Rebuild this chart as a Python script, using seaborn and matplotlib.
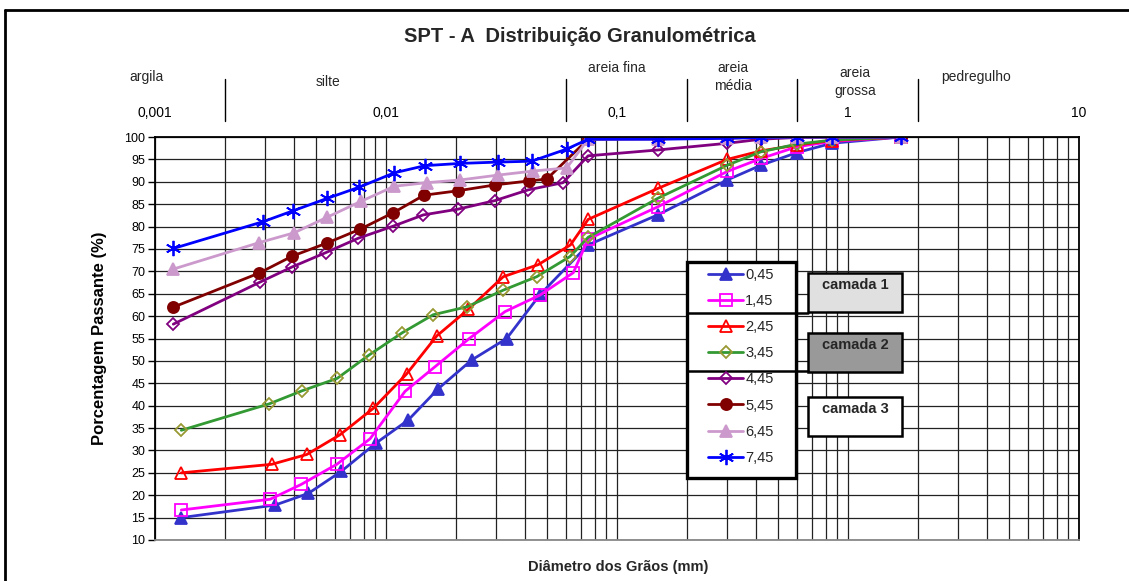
import pandas as pd
import matplotlib
matplotlib.use("Agg")
import matplotlib.pyplot as plt
import matplotlib.transforms as mtransforms
from matplotlib.lines import Line2D
from matplotlib.patches import Rectangle
from matplotlib.ticker import FixedLocator, LogLocator, NullFormatter
import seaborn as sns

W, H = 1129, 581

# sieve openings (mm), shared by all samples
sieves = [0.075, 0.15, 0.30, 0.42, 0.60, 0.85, 1.7]

# sedimentation diameters (mm) read per sample
sed_045 = [0.00130, 0.00331, 0.00461, 0.00639, 0.00903, 0.01249, 0.01684, 0.02350, 0.03330, 0.04642]
sed_145 = [0.00130, 0.00315, 0.00429, 0.00612, 0.00853, 0.01209, 0.01630, 0.02294, 0.03274, 0.04642, 0.06469]
sed_245 = [0.00130, 0.00320, 0.00454, 0.00632, 0.00881, 0.01229, 0.01660, 0.02271, 0.03219, 0.04564, 0.06290]
sed_345 = [0.00130, 0.00312, 0.00432, 0.00615, 0.00844, 0.01177, 0.01600, 0.02248, 0.03219, 0.04492, 0.06259]
sed_445 = [0.00120, 0.00285, 0.00393, 0.00550, 0.00759, 0.01076, 0.01450, 0.02056, 0.02964, 0.04130, 0.05838]
sed_545 = [0.00120, 0.00282, 0.00393, 0.00554, 0.00772, 0.01076, 0.01460, 0.02056, 0.02964, 0.04171, 0.04963]
sed_645 = [0.00120, 0.00282, 0.00400, 0.00557, 0.00777, 0.01086, 0.01500, 0.02091, 0.03063, 0.04342, 0.06058]
sed_745 = [0.00120, 0.00294, 0.00395, 0.00557, 0.00766, 0.01086, 0.01475, 0.02091, 0.03063, 0.04273, 0.06058]

# percentage passing (%)
p_045 = [15.0, 17.8, 20.4, 25.3, 31.6, 36.8, 43.8, 50.2, 55.0, 64.8, 75.9, 82.6, 90.4, 93.7, 96.5, 98.6, 100]
p_145 = [16.7, 19.1, 22.4, 26.9, 32.6, 43.2, 48.7, 55.0, 61.0, 64.7, 69.7, 77.2, 84.4, 92.3, 95.2, 97.8, 99.0, 100]
p_245 = [25.0, 26.9, 29.1, 33.5, 39.4, 47.1, 55.6, 61.5, 68.8, 71.5, 75.9, 81.6, 88.5, 95.0, 96.9, 98.2, 99.2, 100]
p_345 = [34.5, 40.4, 43.3, 46.1, 51.3, 56.3, 60.3, 62.1, 65.8, 68.8, 73.3, 77.6, 86.3, 93.7, 96.7, 98.4, 99.3, 100]
p_445 = [58.2, 67.6, 71.0, 74.2, 77.4, 80.1, 82.6, 83.9, 85.8, 88.2, 89.8, 95.8, 97.1, 98.6, 99.5, 99.9, 100, 100]
p_545 = [62.0, 69.6, 73.4, 76.3, 79.4, 83.1, 87.0, 88.0, 89.3, 90.2, 90.6, 99.5, 99.6, 99.8, 99.9, 100, 100, 100]
p_645 = [70.5, 76.4, 78.6, 82.1, 85.6, 89.0, 89.8, 90.4, 91.5, 92.4, 93.1, 99.5, 99.6, 99.8, 99.9, 100, 100, 100]
p_745 = [75.1, 81.1, 83.5, 86.3, 88.8, 92.0, 93.6, 94.1, 94.4, 94.6, 97.3, 99.5, 99.5, 99.7, 99.9, 100, 100, 100]

depths = ["0,45", "1,45", "2,45", "3,45", "4,45", "5,45", "6,45", "7,45"]
sed_list = [sed_045, sed_145, sed_245, sed_345, sed_445, sed_545, sed_645, sed_745]
pass_list = [p_045, p_145, p_245, p_345, p_445, p_545, p_645, p_745]

x_ticks = [0.001, 0.01, 0.1, 1, 10]
x_tick_labels = ["0,001", "0,01", "0,1", "1", "10"]
fraction_limits = [0.002, 0.06, 0.2, 0.6, 2.0]
fraction_names = ["argila", "silte", "areia fina", "areia\nmédia", "areia\ngrossa", "pedregulho"]
layers = ["camada 1", "camada 2", "camada 3"]

rows = []
for depth, sed, pas in zip(depths, sed_list, pass_list):
    for d, p in zip(sed + sieves, pas):
        rows.append({"prof": depth, "diam": d, "passante": p})
df = pd.DataFrame(rows)

styles = {
    "0,45": dict(color="#3333cc", marker="^", markerfacecolor="#3333cc", markeredgecolor="#3333cc", markersize=8),
    "1,45": dict(color="#ff00ff", marker="s", markerfacecolor="none", markeredgecolor="#ff00ff", markersize=8.5),
    "2,45": dict(color="#ff0000", marker="^", markerfacecolor="none", markeredgecolor="#ff0000", markersize=9),
    "3,45": dict(color="#339933", marker="D", markerfacecolor="none", markeredgecolor="#999933", markersize=6.5),
    "4,45": dict(color="#800080", marker="D", markerfacecolor="none", markeredgecolor="#800080", markersize=6.5),
    "5,45": dict(color="#800000", marker="o", markerfacecolor="#800000", markeredgecolor="#800000", markersize=8),
    "6,45": dict(color="#cc99cc", marker="^", markerfacecolor="#cc99cc", markeredgecolor="#cc99cc", markersize=8),
    "7,45": dict(color="#0000ff", marker=(6, 2, 0), markerfacecolor="#0000ff", markeredgecolor="#0000ff", markersize=11),
}

sns.set_theme(style="white")
plt.rcParams["font.family"] = ["Liberation Sans", "DejaVu Sans"]

fig = plt.figure(figsize=(W / 100, H / 100), dpi=100)
ax = fig.add_axes([155 / W, 41 / H, 924 / W, 403 / H])


def px(x, y):
    return x / W, 1 - y / H


for depth in depths:
    sub = df[df["prof"] == depth]
    sns.lineplot(data=sub, x="diam", y="passante", ax=ax, estimator=None, sort=False,
                 linewidth=2, markeredgewidth=1.3, label=depth, legend=False, **styles[depth])

ax.set_xscale("log")
ax.set_xlim(0.001, 10)
ax.set_ylim(10, 100)
ax.yaxis.set_major_locator(FixedLocator(range(10, 101, 5)))
ax.xaxis.set_major_locator(FixedLocator(x_ticks))
ax.set_xticklabels(x_tick_labels)
ax.xaxis.set_minor_locator(LogLocator(base=10, subs=range(2, 10), numticks=20))
ax.xaxis.set_minor_formatter(NullFormatter())
ax.xaxis.set_ticks_position("top")
ax.tick_params(axis="x", which="both", top=True, bottom=False, labeltop=True, labelbottom=False,
               length=0, pad=12, labelsize=10, colors="black")
ax.tick_params(axis="y", which="major", left=True, length=5, width=1, pad=2, labelsize=9, colors="black")
ax.grid(True, which="both", axis="x", color="#222222", linewidth=0.9)
ax.grid(True, which="major", axis="y", color="#222222", linewidth=0.9)
for side in ["left", "right", "top", "bottom"]:
    ax.spines[side].set_color("black")
    ax.spines[side].set_linewidth(1.3)
ax.spines["bottom"].set_color("#888888")

ax.set_xlabel("")
ax.set_ylabel("Porcentagem Passante (%)", fontsize=12, fontweight="bold", color="black")
ax.yaxis.set_label_coords(-0.052, 0.5)

fig.text(*px(580, 36), "SPT - A  Distribuição Granulométrica", ha="center", va="center",
         fontsize=14.5, fontweight="bold")
fig.text(*px(618, 567), "Diâmetro dos Grãos (mm)", ha="center", va="center", fontsize=10.5, fontweight="bold")

# soil fraction header
trans = mtransforms.blended_transform_factory(ax.transData, fig.transFigure)
for lim in fraction_limits:
    ax.plot([lim, lim], [1 - 79 / H, 1 - 121 / H], transform=trans, color="black", lw=1, clip_on=False)
name_pos = [(147, 77), (328, 82), (617, 68), (733, 77), (855, 82), (976, 77)]
for name, (x, y) in zip(fraction_names, name_pos):
    fig.text(*px(x, y), name, ha="center", va="center", fontsize=10, linespacing=1.45)

# outer frame (left and top edges only, the rest lies outside the image)
fig.add_artist(Line2D([5 / W, 5 / W], [0, 1 - 10 / H], transform=fig.transFigure, color="black", lw=2))
fig.add_artist(Line2D([5 / W, 1], [1 - 10 / H, 1 - 10 / H], transform=fig.transFigure, color="black", lw=2))

# legend box with layer groups
fig.add_artist(Rectangle(px(687, 478), 109 / W, 216 / H, transform=fig.transFigure,
                         facecolor="white", edgecolor="black", lw=2.4, zorder=2))
for y in [313, 371]:
    fig.add_artist(Line2D([687 / W, 808 / W], [1 - y / H, 1 - y / H], transform=fig.transFigure,
                          color="black", lw=1.8, zorder=3))
handles, labels = ax.get_legend_handles_labels()
fig.legend(handles, labels, loc="upper left", bbox_to_anchor=px(708, 268), bbox_transform=fig.transFigure,
           frameon=False, borderpad=0, borderaxespad=0, labelspacing=0.83, handlelength=2.4,
           handletextpad=0.15, fontsize=10.5)

layer_boxes = [(273, "#e0e0e0"), (333, "#999999"), (397, "white")]
for name, (top, fc) in zip(layers, layer_boxes):
    fig.add_artist(Rectangle(px(808, top + 39), 94 / W, 39 / H, transform=fig.transFigure,
                             facecolor=fc, edgecolor="black", lw=1.8, zorder=2))
    fig.text(*px(855, top + 12), name, ha="center", va="center", fontsize=10.5, fontweight="bold", zorder=4)

fig.savefig("out.png", dpi=100, facecolor="white")
